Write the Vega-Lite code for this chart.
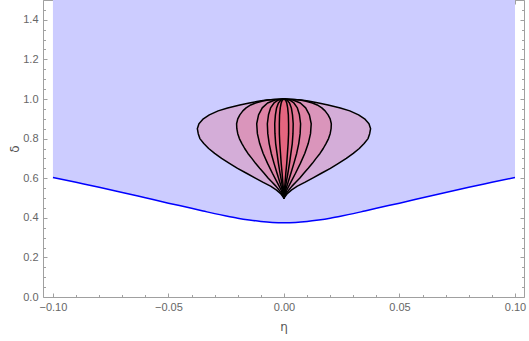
{
  "$schema": "https://vega.github.io/schema/vega-lite/v6.json",
  "width": 481,
  "height": 297,
  "autosize": {"type": "none"},
  "padding": {"left": 43, "top": 0, "right": 5, "bottom": 44},
  "background": "white",
  "config": {
    "view": {"stroke": "#a0a0a0", "strokeWidth": 1},
    "axis": {
      "domain": false,
      "grid": false,
      "tickColor": "#a0a0a0",
      "tickWidth": 1,
      "labelFont": "Liberation Sans",
      "labelFontSize": 11,
      "labelColor": "#666666",
      "titleFont": "DejaVu Sans",
      "titleFontSize": 12,
      "titleFontWeight": "normal",
      "titleColor": "#555555",
      "labelOverlap": false,
      "labelFlush": false
    }
  },
  "datasets": {
    "curve": [
      {"eta": -0.1, "delta": 0.604},
      {"eta": -0.09, "delta": 0.579},
      {"eta": -0.08, "delta": 0.554},
      {"eta": -0.07, "delta": 0.528},
      {"eta": -0.06, "delta": 0.501},
      {"eta": -0.05, "delta": 0.474},
      {"eta": -0.04, "delta": 0.448},
      {"eta": -0.035, "delta": 0.4345},
      {"eta": -0.03, "delta": 0.421},
      {"eta": -0.025, "delta": 0.409},
      {"eta": -0.02, "delta": 0.398},
      {"eta": -0.015, "delta": 0.389},
      {"eta": -0.01, "delta": 0.3816},
      {"eta": -0.005, "delta": 0.3767},
      {"eta": 0, "delta": 0.375},
      {"eta": 0.005, "delta": 0.3767},
      {"eta": 0.01, "delta": 0.3816},
      {"eta": 0.015, "delta": 0.389},
      {"eta": 0.02, "delta": 0.398},
      {"eta": 0.025, "delta": 0.409},
      {"eta": 0.03, "delta": 0.421},
      {"eta": 0.035, "delta": 0.4345},
      {"eta": 0.04, "delta": 0.448},
      {"eta": 0.05, "delta": 0.474},
      {"eta": 0.06, "delta": 0.501},
      {"eta": 0.07, "delta": 0.528},
      {"eta": 0.08, "delta": 0.554},
      {"eta": 0.09, "delta": 0.579},
      {"eta": 0.1, "delta": 0.604}
    ],
    "petals": [
      {"p": 1, "d": 0.5, "lo": 0, "hi": 0},
      {"p": 1, "d": 0.52, "lo": -0.0013, "hi": 0.0013},
      {"p": 1, "d": 0.54, "lo": -0.0032, "hi": 0.0032},
      {"p": 1, "d": 0.56, "lo": -0.0058, "hi": 0.0058},
      {"p": 1, "d": 0.58, "lo": -0.0092, "hi": 0.0092},
      {"p": 1, "d": 0.6, "lo": -0.0124, "hi": 0.0124},
      {"p": 1, "d": 0.625, "lo": -0.0162, "hi": 0.0162},
      {"p": 1, "d": 0.65, "lo": -0.0201, "hi": 0.0201},
      {"p": 1, "d": 0.675, "lo": -0.0236, "hi": 0.0236},
      {"p": 1, "d": 0.7, "lo": -0.027, "hi": 0.027},
      {"p": 1, "d": 0.725, "lo": -0.03, "hi": 0.03},
      {"p": 1, "d": 0.75, "lo": -0.0326, "hi": 0.0326},
      {"p": 1, "d": 0.775, "lo": -0.0347, "hi": 0.0347},
      {"p": 1, "d": 0.8, "lo": -0.0364, "hi": 0.0364},
      {"p": 1, "d": 0.825, "lo": -0.0371, "hi": 0.0371},
      {"p": 1, "d": 0.85, "lo": -0.0375, "hi": 0.0375},
      {"p": 1, "d": 0.875, "lo": -0.0368, "hi": 0.0368},
      {"p": 1, "d": 0.9, "lo": -0.0349, "hi": 0.0349},
      {"p": 1, "d": 0.92, "lo": -0.0323, "hi": 0.0323},
      {"p": 1, "d": 0.94, "lo": -0.0285, "hi": 0.0285},
      {"p": 1, "d": 0.955, "lo": -0.0244, "hi": 0.0244},
      {"p": 1, "d": 0.97, "lo": -0.0191, "hi": 0.0191},
      {"p": 1, "d": 0.98, "lo": -0.015, "hi": 0.015},
      {"p": 1, "d": 0.99, "lo": -0.0105, "hi": 0.0105},
      {"p": 1, "d": 0.995, "lo": -0.0075, "hi": 0.0075},
      {"p": 1, "d": 0.998, "lo": -0.0045, "hi": 0.0045},
      {"p": 1, "d": 1.0, "lo": 0, "hi": 0},
      {"p": 2, "d": 0.5, "lo": 0, "hi": 0},
      {"p": 2, "d": 0.52, "lo": -0.0008, "hi": 0.0008},
      {"p": 2, "d": 0.54, "lo": -0.0021, "hi": 0.0021},
      {"p": 2, "d": 0.56, "lo": -0.0035, "hi": 0.0035},
      {"p": 2, "d": 0.58, "lo": -0.0051, "hi": 0.0051},
      {"p": 2, "d": 0.6, "lo": -0.0068, "hi": 0.0068},
      {"p": 2, "d": 0.625, "lo": -0.0086, "hi": 0.0086},
      {"p": 2, "d": 0.65, "lo": -0.0105, "hi": 0.0105},
      {"p": 2, "d": 0.675, "lo": -0.0123, "hi": 0.0123},
      {"p": 2, "d": 0.7, "lo": -0.0139, "hi": 0.0139},
      {"p": 2, "d": 0.725, "lo": -0.0156, "hi": 0.0156},
      {"p": 2, "d": 0.75, "lo": -0.017, "hi": 0.017},
      {"p": 2, "d": 0.775, "lo": -0.0182, "hi": 0.0182},
      {"p": 2, "d": 0.8, "lo": -0.0193, "hi": 0.0193},
      {"p": 2, "d": 0.825, "lo": -0.02, "hi": 0.02},
      {"p": 2, "d": 0.85, "lo": -0.0204, "hi": 0.0204},
      {"p": 2, "d": 0.875, "lo": -0.0205, "hi": 0.0205},
      {"p": 2, "d": 0.9, "lo": -0.02, "hi": 0.02},
      {"p": 2, "d": 0.92, "lo": -0.0191, "hi": 0.0191},
      {"p": 2, "d": 0.94, "lo": -0.0178, "hi": 0.0178},
      {"p": 2, "d": 0.955, "lo": -0.0164, "hi": 0.0164},
      {"p": 2, "d": 0.97, "lo": -0.0144, "hi": 0.0144},
      {"p": 2, "d": 0.98, "lo": -0.0123, "hi": 0.0123},
      {"p": 2, "d": 0.99, "lo": -0.0092, "hi": 0.0092},
      {"p": 2, "d": 0.995, "lo": -0.0068, "hi": 0.0068},
      {"p": 2, "d": 0.998, "lo": -0.0041, "hi": 0.0041},
      {"p": 2, "d": 1.0, "lo": 0, "hi": 0},
      {"p": 3, "d": 0.5, "lo": 0, "hi": 0},
      {"p": 3, "d": 0.54, "lo": -0.0012, "hi": 0.0012},
      {"p": 3, "d": 0.58, "lo": -0.003, "hi": 0.003},
      {"p": 3, "d": 0.625, "lo": -0.005, "hi": 0.005},
      {"p": 3, "d": 0.675, "lo": -0.0071, "hi": 0.0071},
      {"p": 3, "d": 0.725, "lo": -0.009, "hi": 0.009},
      {"p": 3, "d": 0.775, "lo": -0.0105, "hi": 0.0105},
      {"p": 3, "d": 0.825, "lo": -0.0115, "hi": 0.0115},
      {"p": 3, "d": 0.875, "lo": -0.0118, "hi": 0.0118},
      {"p": 3, "d": 0.92, "lo": -0.011, "hi": 0.011},
      {"p": 3, "d": 0.955, "lo": -0.0094, "hi": 0.0094},
      {"p": 3, "d": 0.98, "lo": -0.0071, "hi": 0.0071},
      {"p": 3, "d": 0.995, "lo": -0.0039, "hi": 0.0039},
      {"p": 3, "d": 1.0, "lo": 0, "hi": 0},
      {"p": 4, "d": 0.5, "lo": 0, "hi": 0},
      {"p": 4, "d": 0.54, "lo": -0.0007, "hi": 0.0007},
      {"p": 4, "d": 0.58, "lo": -0.0018, "hi": 0.0018},
      {"p": 4, "d": 0.625, "lo": -0.003, "hi": 0.003},
      {"p": 4, "d": 0.675, "lo": -0.0043, "hi": 0.0043},
      {"p": 4, "d": 0.725, "lo": -0.0055, "hi": 0.0055},
      {"p": 4, "d": 0.775, "lo": -0.0064, "hi": 0.0064},
      {"p": 4, "d": 0.825, "lo": -0.007, "hi": 0.007},
      {"p": 4, "d": 0.875, "lo": -0.0072, "hi": 0.0072},
      {"p": 4, "d": 0.92, "lo": -0.0067, "hi": 0.0067},
      {"p": 4, "d": 0.955, "lo": -0.0058, "hi": 0.0058},
      {"p": 4, "d": 0.98, "lo": -0.0043, "hi": 0.0043},
      {"p": 4, "d": 0.995, "lo": -0.0024, "hi": 0.0024},
      {"p": 4, "d": 1.0, "lo": 0, "hi": 0},
      {"p": 5, "d": 0.5, "lo": 0, "hi": 0},
      {"p": 5, "d": 0.54, "lo": -0.0004, "hi": 0.0004},
      {"p": 5, "d": 0.58, "lo": -0.001, "hi": 0.001},
      {"p": 5, "d": 0.625, "lo": -0.0017, "hi": 0.0017},
      {"p": 5, "d": 0.675, "lo": -0.0024, "hi": 0.0024},
      {"p": 5, "d": 0.725, "lo": -0.003, "hi": 0.003},
      {"p": 5, "d": 0.775, "lo": -0.0036, "hi": 0.0036},
      {"p": 5, "d": 0.825, "lo": -0.0039, "hi": 0.0039},
      {"p": 5, "d": 0.875, "lo": -0.004, "hi": 0.004},
      {"p": 5, "d": 0.92, "lo": -0.0037, "hi": 0.0037},
      {"p": 5, "d": 0.955, "lo": -0.0032, "hi": 0.0032},
      {"p": 5, "d": 0.98, "lo": -0.0024, "hi": 0.0024},
      {"p": 5, "d": 0.995, "lo": -0.0013, "hi": 0.0013},
      {"p": 5, "d": 1.0, "lo": 0, "hi": 0},
      {"p": 6, "d": 0.5, "lo": 0, "hi": 0},
      {"p": 6, "d": 0.54, "lo": -0.0002, "hi": 0.0002},
      {"p": 6, "d": 0.58, "lo": -0.0005, "hi": 0.0005},
      {"p": 6, "d": 0.625, "lo": -0.0008, "hi": 0.0008},
      {"p": 6, "d": 0.675, "lo": -0.0012, "hi": 0.0012},
      {"p": 6, "d": 0.725, "lo": -0.0015, "hi": 0.0015},
      {"p": 6, "d": 0.775, "lo": -0.0018, "hi": 0.0018},
      {"p": 6, "d": 0.825, "lo": -0.002, "hi": 0.002},
      {"p": 6, "d": 0.875, "lo": -0.002, "hi": 0.002},
      {"p": 6, "d": 0.92, "lo": -0.0019, "hi": 0.0019},
      {"p": 6, "d": 0.955, "lo": -0.0016, "hi": 0.0016},
      {"p": 6, "d": 0.98, "lo": -0.0012, "hi": 0.0012},
      {"p": 6, "d": 0.995, "lo": -0.0007, "hi": 0.0007},
      {"p": 6, "d": 1.0, "lo": 0, "hi": 0}
    ]
  },
  "resolve": {"axis": {"x": "independent", "y": "independent"}},
  "layer": [
    {
      "data": {"name": "curve"},
      "mark": {"type": "area", "color": "#ccccff", "opacity": 1, "interpolate": "monotone"},
      "encoding": {
        "x": {
          "field": "eta", "type": "quantitative",
          "scale": {"domain": [-0.1043, 0.1039], "nice": false, "zero": false},
          "axis": {
            "orient": "bottom",
            "title": "η",
            "titlePadding": 8,
            "values": [-0.1, -0.09, -0.08, -0.07, -0.06, -0.05, -0.04, -0.03, -0.02, -0.01, 0, 0.01, 0.02, 0.03, 0.04, 0.05, 0.06, 0.07, 0.08, 0.09, 0.1],
            "labelExpr": "abs(datum.value*20 - round(datum.value*20)) < 0.001 ? format(datum.value, '.2f') : ''",
            "tickSize": {"condition": {"test": "abs(datum.value*20 - round(datum.value*20)) < 0.001", "value": -4}, "value": -2.5},
            "labelPadding": 8
          }
        },
        "y": {
          "field": "delta", "type": "quantitative",
          "scale": {"domain": [0, 1.5], "nice": false, "zero": false},
          "axis": {
            "orient": "left",
            "title": "δ",
            "titlePadding": 1,
            "values": [0, 0.05, 0.1, 0.15, 0.2, 0.25, 0.3, 0.35, 0.4, 0.45, 0.5, 0.55, 0.6, 0.65, 0.7, 0.75, 0.8, 0.85, 0.9, 0.95, 1.0, 1.05, 1.1, 1.15, 1.2, 1.25, 1.3, 1.35, 1.4, 1.45, 1.5],
            "labelExpr": "abs(datum.value*5 - round(datum.value*5)) < 0.001 && datum.value < 1.45 ? format(datum.value, '.1f') : ''",
            "tickSize": {"condition": {"test": "abs(datum.value*5 - round(datum.value*5)) < 0.001", "value": -4}, "value": -2.5},
            "labelPadding": 9
          }
        },
        "y2": {"datum": 1.5}
      }
    },
    {
      "mark": {"type": "rule", "color": "#808080", "strokeWidth": 1, "opacity": 0.3},
      "encoding": {
        "x": {"datum": 0, "type": "quantitative", "scale": {"domain": [-0.1043, 0.1039], "nice": false, "zero": false}, "axis": null}
      }
    },
    {
      "data": {"name": "curve"},
      "mark": {"type": "line", "color": "#0000ff", "strokeWidth": 1.5, "interpolate": "monotone"},
      "encoding": {
        "x": {"field": "eta", "type": "quantitative", "scale": {"domain": [-0.1043, 0.1039], "nice": false, "zero": false}, "axis": null},
        "y": {"field": "delta", "type": "quantitative", "scale": {"domain": [0, 1.5], "nice": false, "zero": false}, "axis": null}
      }
    },
    {
      "data": {"name": "petals"},
      "mark": {"type": "area", "orient": "horizontal", "fill": "#eb4e64", "fillOpacity": 0.25, "stroke": "#000000", "strokeWidth": 1.5, "strokeJoin": "round"},
      "encoding": {
        "y": {
          "field": "d", "type": "quantitative",
          "scale": {"domain": [0, 1.5], "nice": false, "zero": false},
          "axis": {
            "orient": "right",
            "title": null,
            "labels": false,
            "values": [0, 0.05, 0.1, 0.15, 0.2, 0.25, 0.3, 0.35, 0.4, 0.45, 0.5, 0.55, 0.6, 0.65, 0.7, 0.75, 0.8, 0.85, 0.9, 0.95, 1.0, 1.05, 1.1, 1.15, 1.2, 1.25, 1.3, 1.35, 1.4, 1.45, 1.5],
            "tickSize": {"condition": {"test": "abs(datum.value*5 - round(datum.value*5)) < 0.001", "value": -4}, "value": -2.5}
          }
        },
        "x": {
          "field": "lo", "type": "quantitative",
          "scale": {"domain": [-0.1043, 0.1039], "nice": false, "zero": false},
          "axis": {
            "orient": "top",
            "title": null,
            "labels": false,
            "values": [-0.1, -0.09, -0.08, -0.07, -0.06, -0.05, -0.04, -0.03, -0.02, -0.01, 0, 0.01, 0.02, 0.03, 0.04, 0.05, 0.06, 0.07, 0.08, 0.09, 0.1],
            "tickSize": {"condition": {"test": "abs(datum.value*20 - round(datum.value*20)) < 0.001", "value": -4}, "value": -2.5}
          }
        },
        "x2": {"field": "hi"},
        "detail": {"field": "p"}
      }
    }
  ]
}
